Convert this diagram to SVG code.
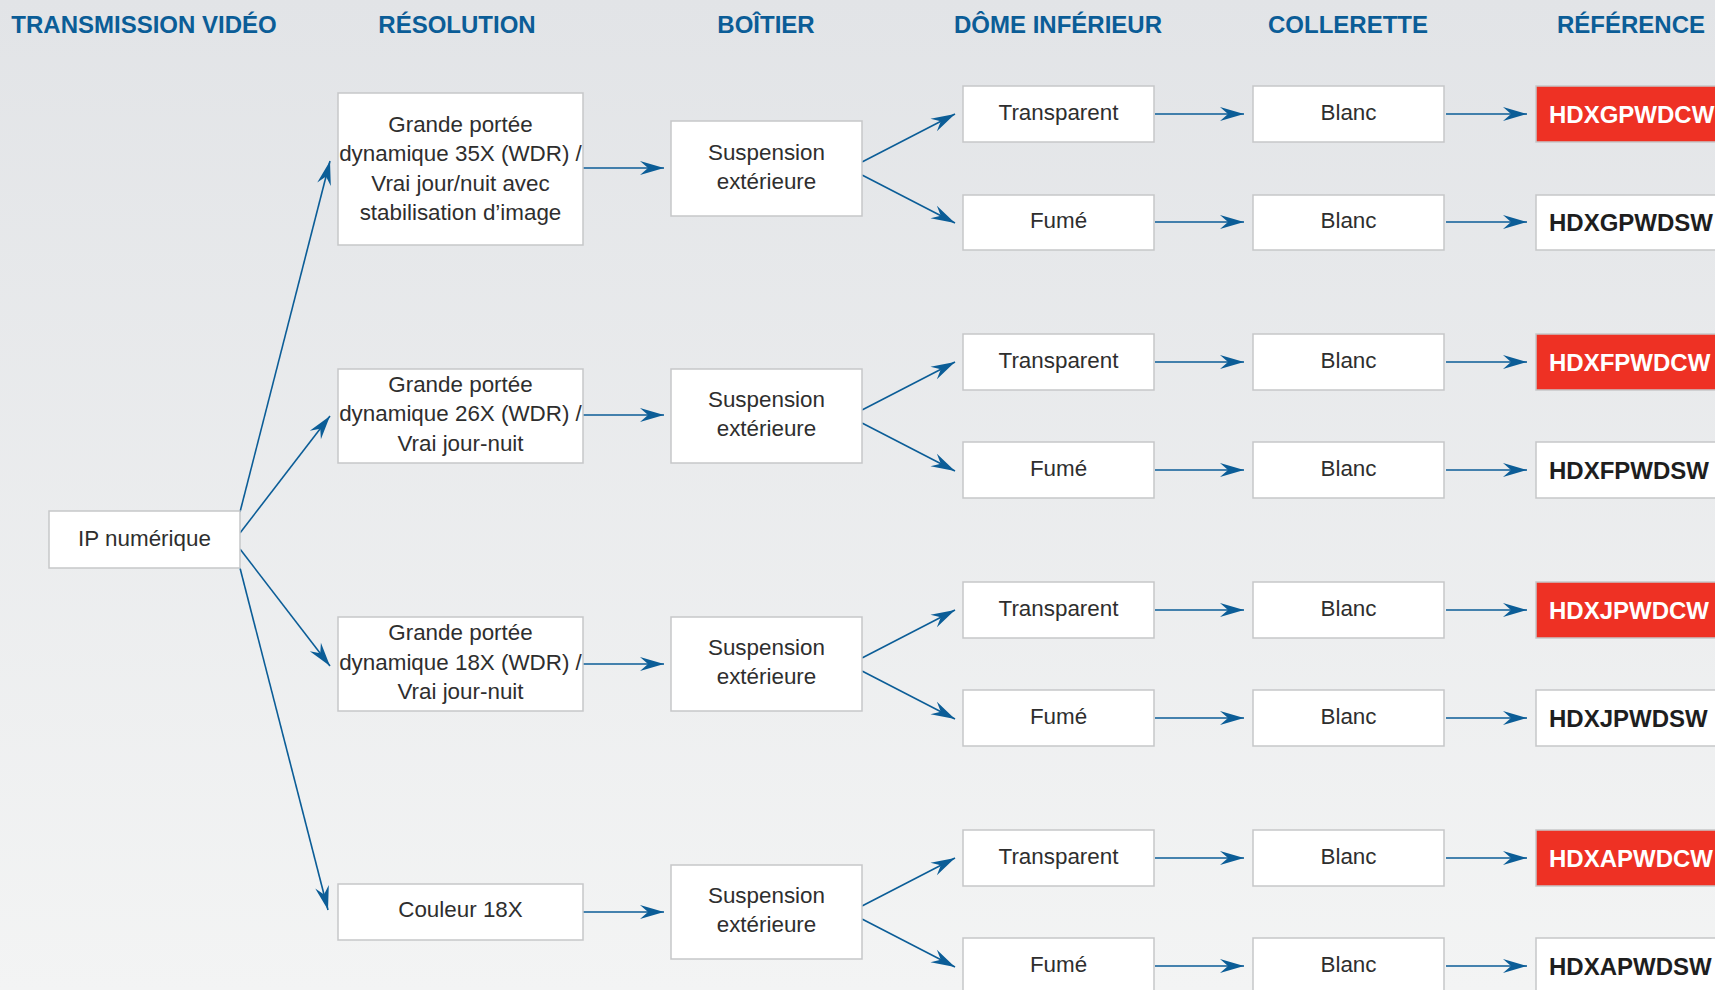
<svg xmlns="http://www.w3.org/2000/svg" width="1715" height="990" viewBox="0 0 1715 990">
<defs>
<linearGradient id="bg" x1="0" y1="0" x2="0" y2="1">
<stop offset="0" stop-color="#e2e4e7"/>
<stop offset="1" stop-color="#f3f4f4"/>
</linearGradient>
<marker id="ah" markerUnits="userSpaceOnUse" markerWidth="26" markerHeight="16" viewBox="-25 -8 26 16" refX="0" refY="0" orient="auto">
<path d="M0,0 L-24,-7 L-16,0 L-24,7 Z" fill="#0b5d97"/>
</marker>
</defs>
<style>
.hd{font-family:"Liberation Sans",Arial,sans-serif;font-weight:bold;font-size:24px;fill:#0b5d97;text-anchor:middle}
.bx{fill:#fff;stroke:#c6c7c9;stroke-width:1.5}
.red{fill:#ee3124;stroke:#c6c7c9;stroke-width:1.5}
.t{font-family:"Liberation Sans",Arial,sans-serif;font-size:22.4px;fill:#2e2e2e;text-anchor:middle}
.rf{font-family:"Liberation Sans",Arial,sans-serif;font-weight:bold;font-size:24px;fill:#1e1e1e}
.rw{fill:#fff}
.c line{stroke:#0b5d97;stroke-width:1.6;marker-end:url(#ah)}
</style>
<rect x="0" y="0" width="1715" height="990" fill="url(#bg)"/>

<g id="headers">
<text class="hd" x="144" y="33">TRANSMISSION VIDÉO</text>
<text class="hd" x="457" y="33">RÉSOLUTION</text>
<text class="hd" x="766" y="33">BOÎTIER</text>
<text class="hd" x="1058" y="33">DÔME INFÉRIEUR</text>
<text class="hd" x="1348" y="33">COLLERETTE</text>
<text class="hd" x="1631" y="33">RÉFÉRENCE</text>
</g>

<g class="c" id="connectors">
<line x1="240" y1="512" x2="330" y2="161"/>
<line x1="240" y1="533" x2="330" y2="416"/>
<line x1="240" y1="549" x2="330" y2="666"/>
<line x1="240" y1="568" x2="328" y2="910"/>

<line x1="580" y1="168" x2="664" y2="168"/>
<line x1="573" y1="415" x2="664" y2="415"/>
<line x1="573" y1="664" x2="664" y2="664"/>
<line x1="580" y1="912" x2="664" y2="912"/>

<line x1="862" y1="162" x2="955" y2="114"/>
<line x1="862" y1="175" x2="955" y2="223"/>
<line x1="862" y1="410" x2="955" y2="362"/>
<line x1="862" y1="423" x2="955" y2="471"/>
<line x1="862" y1="658" x2="955" y2="610"/>
<line x1="862" y1="671" x2="955" y2="719"/>
<line x1="862" y1="906" x2="955" y2="858"/>
<line x1="862" y1="919" x2="955" y2="967"/>

<line x1="1155" y1="114" x2="1244" y2="114"/>
<line x1="1155" y1="222" x2="1244" y2="222"/>
<line x1="1155" y1="362" x2="1244" y2="362"/>
<line x1="1155" y1="470" x2="1244" y2="470"/>
<line x1="1155" y1="610" x2="1244" y2="610"/>
<line x1="1155" y1="718" x2="1244" y2="718"/>
<line x1="1155" y1="858" x2="1244" y2="858"/>
<line x1="1155" y1="966" x2="1244" y2="966"/>

<line x1="1446" y1="114" x2="1527" y2="114"/>
<line x1="1446" y1="222" x2="1527" y2="222"/>
<line x1="1446" y1="362" x2="1527" y2="362"/>
<line x1="1446" y1="470" x2="1527" y2="470"/>
<line x1="1446" y1="610" x2="1527" y2="610"/>
<line x1="1446" y1="718" x2="1527" y2="718"/>
<line x1="1446" y1="858" x2="1527" y2="858"/>
<line x1="1446" y1="966" x2="1527" y2="966"/>
</g>

<g id="n-ip"><rect class="bx" x="49" y="511" width="191" height="57"/><text class="t" x="144.5" y="546">IP numérique</text></g>

<g id="n-res35"><rect class="bx" x="338" y="93" width="245" height="152"/>
<text class="t" x="460.5" y="132">Grande portée</text>
<text class="t" x="460.5" y="161">dynamique 35X (WDR) /</text>
<text class="t" x="460.5" y="191">Vrai jour/nuit avec</text>
<text class="t" x="460.5" y="220">stabilisation d’image</text></g>
<g id="n-res26"><rect class="bx" x="338" y="369" width="245" height="94"/>
<text class="t" x="460.5" y="392">Grande portée</text>
<text class="t" x="460.5" y="421">dynamique 26X (WDR) /</text>
<text class="t" x="460.5" y="451">Vrai jour-nuit</text></g>
<g id="n-res18"><rect class="bx" x="338" y="617" width="245" height="94"/>
<text class="t" x="460.5" y="640">Grande portée</text>
<text class="t" x="460.5" y="670">dynamique 18X (WDR) /</text>
<text class="t" x="460.5" y="699">Vrai jour-nuit</text></g>
<g id="n-coul"><rect class="bx" x="338" y="884" width="245" height="56"/>
<text class="t" x="460.5" y="917">Couleur 18X</text></g>

<g id="n-box1"><rect class="bx" x="671" y="121" width="191" height="95"/><text class="t" x="766.5" y="160">Suspension</text><text class="t" x="766.5" y="189">extérieure</text></g>
<g id="n-box2"><rect class="bx" x="671" y="369" width="191" height="94"/><text class="t" x="766.5" y="407">Suspension</text><text class="t" x="766.5" y="436">extérieure</text></g>
<g id="n-box3"><rect class="bx" x="671" y="617" width="191" height="94"/><text class="t" x="766.5" y="655">Suspension</text><text class="t" x="766.5" y="684">extérieure</text></g>
<g id="n-box4"><rect class="bx" x="671" y="865" width="191" height="94"/><text class="t" x="766.5" y="903">Suspension</text><text class="t" x="766.5" y="932">extérieure</text></g>

<g id="n-d1t"><rect class="bx" x="963" y="86" width="191" height="56"/><text class="t" x="1058.5" y="120">Transparent</text></g>
<g id="n-d1f"><rect class="bx" x="963" y="195" width="191" height="55"/><text class="t" x="1058.5" y="228">Fumé</text></g>
<g id="n-d2t"><rect class="bx" x="963" y="334" width="191" height="56"/><text class="t" x="1058.5" y="368">Transparent</text></g>
<g id="n-d2f"><rect class="bx" x="963" y="442" width="191" height="56"/><text class="t" x="1058.5" y="476">Fumé</text></g>
<g id="n-d3t"><rect class="bx" x="963" y="582" width="191" height="56"/><text class="t" x="1058.5" y="616">Transparent</text></g>
<g id="n-d3f"><rect class="bx" x="963" y="690" width="191" height="56"/><text class="t" x="1058.5" y="724">Fumé</text></g>
<g id="n-d4t"><rect class="bx" x="963" y="830" width="191" height="56"/><text class="t" x="1058.5" y="864">Transparent</text></g>
<g id="n-d4f"><rect class="bx" x="963" y="938" width="191" height="60"/><text class="t" x="1058.5" y="972">Fumé</text></g>

<g id="n-c1t"><rect class="bx" x="1253" y="86" width="191" height="56"/><text class="t" x="1348.5" y="120">Blanc</text></g>
<g id="n-c1f"><rect class="bx" x="1253" y="195" width="191" height="55"/><text class="t" x="1348.5" y="228">Blanc</text></g>
<g id="n-c2t"><rect class="bx" x="1253" y="334" width="191" height="56"/><text class="t" x="1348.5" y="368">Blanc</text></g>
<g id="n-c2f"><rect class="bx" x="1253" y="442" width="191" height="56"/><text class="t" x="1348.5" y="476">Blanc</text></g>
<g id="n-c3t"><rect class="bx" x="1253" y="582" width="191" height="56"/><text class="t" x="1348.5" y="616">Blanc</text></g>
<g id="n-c3f"><rect class="bx" x="1253" y="690" width="191" height="56"/><text class="t" x="1348.5" y="724">Blanc</text></g>
<g id="n-c4t"><rect class="bx" x="1253" y="830" width="191" height="56"/><text class="t" x="1348.5" y="864">Blanc</text></g>
<g id="n-c4f"><rect class="bx" x="1253" y="938" width="191" height="60"/><text class="t" x="1348.5" y="972">Blanc</text></g>

<g id="n-r1c"><rect class="red" x="1536" y="86" width="190" height="56"/><text class="rf rw" x="1549" y="123">HDXGPWDCW</text></g>
<g id="n-r1s"><rect class="bx" x="1536" y="195" width="190" height="55"/><text class="rf" x="1549" y="231">HDXGPWDSW</text></g>
<g id="n-r2c"><rect class="red" x="1536" y="334" width="190" height="56"/><text class="rf rw" x="1549" y="371">HDXFPWDCW</text></g>
<g id="n-r2s"><rect class="bx" x="1536" y="442" width="190" height="56"/><text class="rf" x="1549" y="479">HDXFPWDSW</text></g>
<g id="n-r3c"><rect class="red" x="1536" y="582" width="190" height="56"/><text class="rf rw" x="1549" y="619">HDXJPWDCW</text></g>
<g id="n-r3s"><rect class="bx" x="1536" y="690" width="190" height="56"/><text class="rf" x="1549" y="727">HDXJPWDSW</text></g>
<g id="n-r4c"><rect class="red" x="1536" y="830" width="190" height="56"/><text class="rf rw" x="1549" y="867">HDXAPWDCW</text></g>
<g id="n-r4s"><rect class="bx" x="1536" y="938" width="190" height="60"/><text class="rf" x="1549" y="975">HDXAPWDSW</text></g>
</svg>
